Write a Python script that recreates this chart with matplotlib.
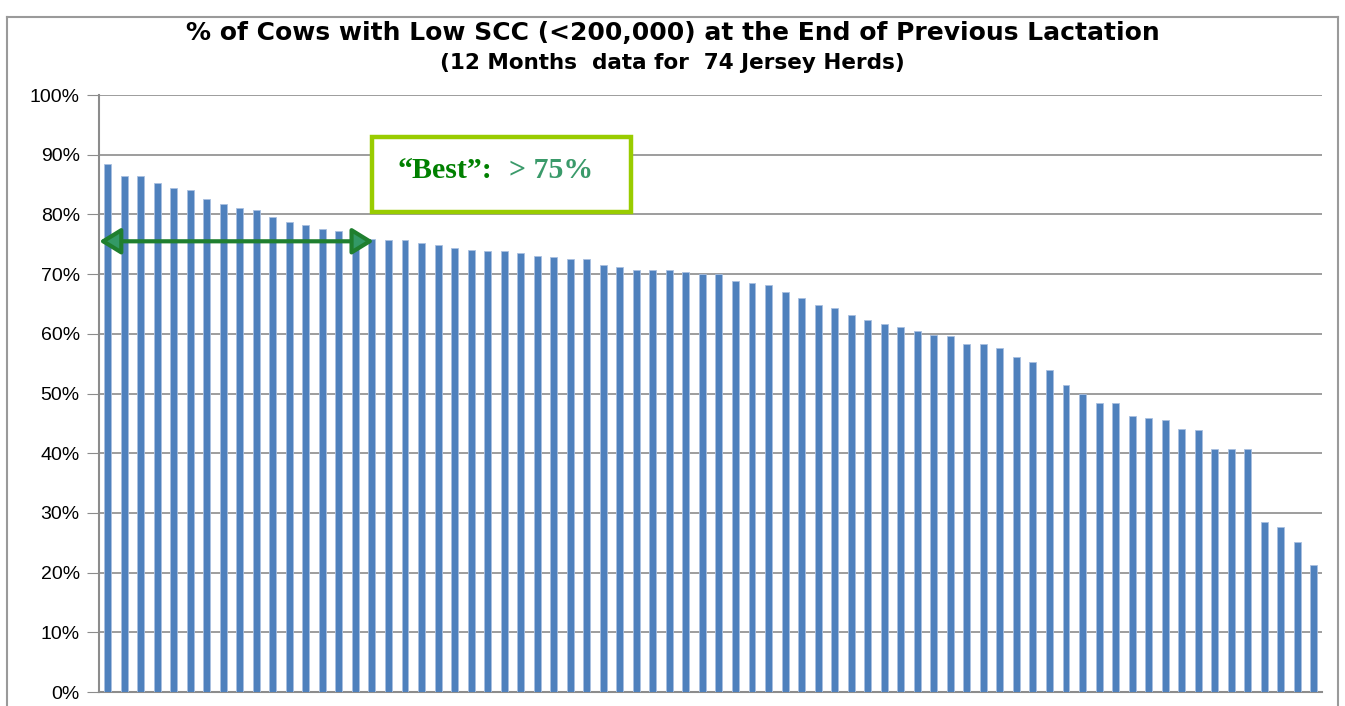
import matplotlib.pyplot as plt
from matplotlib.patches import Rectangle
from matplotlib.lines import Line2D

# % of cows with low SCC, one bar per herd (sorted high to low)
herd_pct = [88.4, 86.4, 86.4, 85.3, 84.4, 84.1, 82.6, 81.7, 81.0, 80.8,
            79.6, 78.7, 78.2, 77.6, 77.3, 76.1, 75.9, 75.8, 75.7, 75.2,
            74.8, 74.3, 74.1, 73.8, 73.8, 73.6, 73.0, 72.8, 72.6, 72.6,
            71.6, 71.2, 70.7, 70.7, 70.7, 70.4, 70.1, 70.1, 68.9, 68.5,
            68.2, 67.0, 66.0, 64.8, 64.3, 63.2, 62.3, 61.7, 61.1, 60.5,
            59.8, 59.6, 58.3, 58.3, 57.6, 56.2, 55.2, 53.9, 51.4, 50.0,
            48.4, 48.4, 46.2, 45.9, 45.5, 44.1, 43.9, 40.7, 40.7, 40.7,
            28.5, 27.6, 25.2, 21.2]
y_ticks = list(range(0, 101, 10))
y_labels = [f'{v}%' for v in y_ticks]
best_cutoff = 75.5
best_range = (-0.5, 16.1)

title = '% of Cows with Low SCC (<200,000) at the End of Previous Lactation'
subtitle = '(12 Months  data for  74 Jersey Herds)'

fig = plt.figure(figsize=(13.45, 7.06), dpi=100)
ax = fig.add_axes([0.0738, 0.0198, 0.9092, 0.8456])

# outer chart border
fig.add_artist(Line2D([7 / 1345, 7 / 1345], [0, 1 - 17 / 706], color='#9a9a9a', lw=1.5))
fig.add_artist(Line2D([7 / 1345, 1338 / 1345], [1 - 17 / 706, 1 - 17 / 706], color='#9a9a9a', lw=1.5))
fig.add_artist(Line2D([1338 / 1345, 1338 / 1345], [0, 1 - 17 / 706], color='#9a9a9a', lw=1.5))

x = range(len(herd_pct))
ax.bar(x, herd_pct, width=0.42, color='#4f81bd', edgecolor='#a9c0e0', linewidth=0.6, zorder=3)

ax.set_xlim(-0.5, len(herd_pct) - 0.5)
ax.set_ylim(0, 100)
ax.set_yticks(y_ticks)
ax.set_yticklabels(y_labels, fontsize=14, family='Liberation Sans')
ax.set_xticks([])
ax.tick_params(axis='y', direction='out', length=9, color='#8c8c8c', pad=5)
ax.grid(axis='y', color='#8c8c8c', linewidth=1.2, zorder=0)
for s in ['top', 'right']:
    ax.spines[s].set_visible(False)
for s in ['left', 'bottom']:
    ax.spines[s].set_color('#8c8c8c')
    ax.spines[s].set_linewidth(1.5)

fig.text(0.5, 1 - 33 / 706, title, ha='center', va='center',
         fontsize=18, fontweight='bold', family='DejaVu Sans')
fig.text(0.5, 1 - 63 / 706, subtitle, ha='center', va='center',
         fontsize=15.5, fontweight='bold', family='DejaVu Sans')

# "Best" box
ax.add_patch(Rectangle((16.0, 80.4), 15.7, 12.6, facecolor='white',
                       edgecolor='#99cc00', linewidth=3.2, zorder=5, clip_on=False))
ax.text(23.3, 87.4, '\u201cBest\u201d:', ha='right', va='center', fontsize=21.5,
        fontweight='bold', family='Liberation Serif', color='#008000', zorder=6)
ax.text(24.3, 87.4, '> 75%', ha='left', va='center', fontsize=21.5,
        fontweight='bold', family='Liberation Serif', color='#3a9a6a', zorder=6)

ax.annotate('', xy=(best_range[0], best_cutoff), xytext=(best_range[1], best_cutoff),
            arrowprops=dict(arrowstyle='<|-|>,head_length=1.3,head_width=0.8',
                            facecolor='#339966', edgecolor='#1f7f2f', lw=3,
                            shrinkA=0, shrinkB=0),
            zorder=6, annotation_clip=False)

fig.savefig('out.png', dpi=100)
